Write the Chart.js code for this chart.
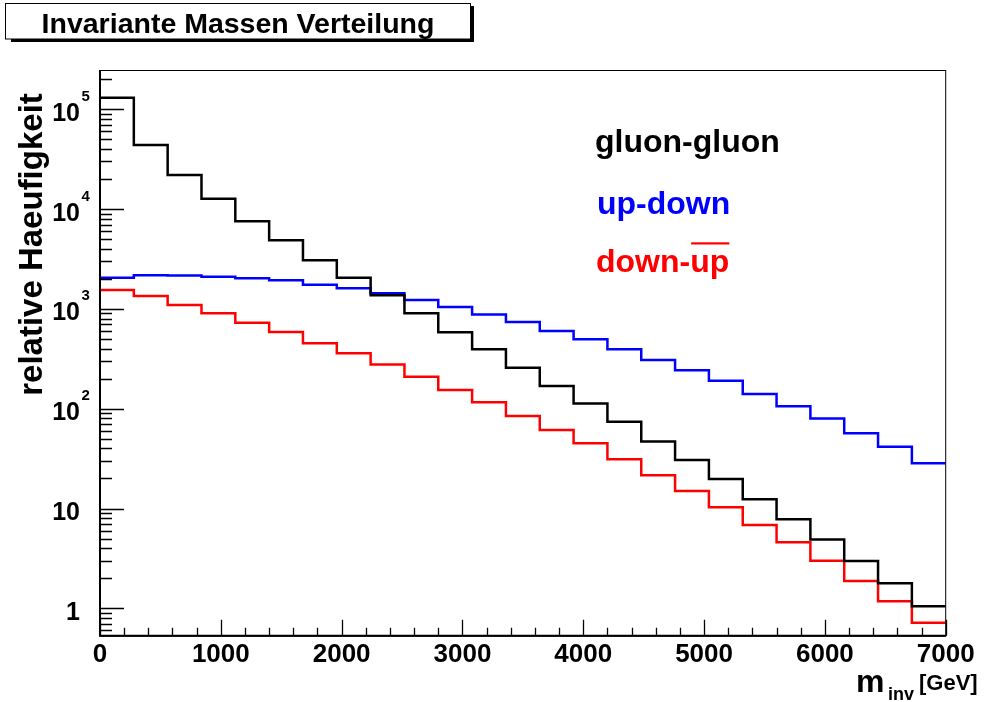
<!DOCTYPE html>
<html>
<head>
<meta charset="utf-8">
<title>Invariante Massen Verteilung</title>
<script src="https://cdn.jsdelivr.net/npm/chart.js@4.4.1/dist/chart.umd.min.js"></script>
<style>
  html, body { margin: 0; padding: 0; background: #fff; }
  #wrap { width: 985px; height: 702px; }
</style>
</head>
<body>
<div id="wrap"><canvas id="massChart" width="985" height="702"></canvas></div>
<script>
// lower edges of the 25 bins (GeV), plus the closing edge
var binLow = [0, 280, 560, 840, 1120, 1400, 1680, 1960, 2240, 2520, 2800, 3080, 3360,
              3640, 3920, 4200, 4480, 4760, 5040, 5320, 5600, 5880, 6160, 6440, 6720];
var binEnd = 7000;

// bin contents
var gluonGluon = [130600, 43800, 22000, 12700, 7550, 4870, 3070, 2055, 1368, 904, 583, 394, 257,
                  169, 113, 74, 47, 30.6, 19.8, 12.4, 7.8, 4.9, 2.98, 1.78, 1.05];
var upDown = [2055, 2172, 2165, 2100, 2026, 1935, 1747, 1608, 1437, 1228, 1045, 879, 739,
              601, 496, 394, 308, 243, 191, 140, 106, 80, 56.7, 41.6, 28.4];
var downUpBar = [1546, 1347, 1094, 904, 727, 587, 452, 359, 277, 209, 154, 116, 84.5,
                 61.2, 45, 31.1, 21.5, 15, 10.3, 6.84, 4.58, 3.0, 1.88, 1.175, 0.717];

var xTickValues = [0, 1000, 2000, 3000, 4000, 5000, 6000, 7000];
var xTickLabels = ['0', '1000', '2000', '3000', '4000', '5000', '6000', '7000'];
var yTickValues = [1, 10, 100, 1000, 10000, 100000];
var yTickBase = ['1', '10', '10', '10', '10', '10'];
var yTickExp = ['', '', '2', '3', '4', '5'];

var seriesNames = ['gluon-gluon', 'up-down', 'down-up'];
var seriesColors = ['#000000', '#0000ff', '#ff0000'];

var FONT = '"Liberation Sans", Arial, Helvetica, sans-serif';

function toSteps(vals) {
  var pts = [];
  for (var i = 0; i < binLow.length; i++) {
    pts.push({ x: binLow[i], y: vals[i] });
  }
  pts.push({ x: binEnd, y: vals[vals.length - 1] });
  return pts;
}

var rootStyle = {
  id: 'rootStyle',
  afterDraw: function (chart) {
    var ctx = chart.ctx;
    var a = chart.chartArea;
    var xs = chart.scales.x;
    var ys = chart.scales.y;
    ctx.save();

    // frame
    ctx.strokeStyle = '#000';
    ctx.lineWidth = 1;
    ctx.strokeRect(a.left, a.top + 0.5, a.right - a.left, a.bottom - a.top);
    ctx.lineWidth = 2;
    ctx.beginPath();
    ctx.moveTo(a.left, a.top);
    ctx.lineTo(a.left, a.bottom);
    ctx.lineTo(a.right, a.bottom);
    ctx.stroke();

    // y ticks (inside)
    ctx.lineWidth = 1.3;
    ctx.beginPath();
    var decades = [0.1, 1, 10, 100, 1000, 10000, 100000];
    decades.forEach(function (d) {
      for (var m = 1; m <= 9; m++) {
        var v = m * d;
        if (v < ys.min || v > ys.max) continue;
        var py = Math.round(ys.getPixelForValue(v)) + 0.5;
        var len = (m === 1) ? 24 : 12;
        ctx.moveTo(a.left, py);
        ctx.lineTo(a.left + len, py);
      }
    });
    // x ticks (inside)
    for (var xv = 0; xv <= binEnd; xv += 200) {
      var px = Math.round(xs.getPixelForValue(xv)) + 0.5;
      var l = (xv % 1000 === 0) ? 16 : 8;
      ctx.moveTo(px, a.bottom);
      ctx.lineTo(px, a.bottom - l);
    }
    ctx.stroke();

    ctx.fillStyle = '#000';
    // y tick labels
    yTickValues.forEach(function (v, i) {
      var py = ys.getPixelForValue(v);
      ctx.font = 'bold 25px ' + FONT;
      ctx.textAlign = 'right';
      ctx.textBaseline = 'alphabetic';
      ctx.fillText(yTickBase[i], 80, py + 11.5);
      if (yTickExp[i]) {
        ctx.font = 'bold 15px ' + FONT;
        ctx.textAlign = 'left';
        ctx.fillText(yTickExp[i], 81.5, py - 8.5);
      }
    });
    // x tick labels
    ctx.font = 'bold 26px ' + FONT;
    ctx.textAlign = 'center';
    xTickValues.forEach(function (v, i) {
      ctx.fillText(xTickLabels[i], xs.getPixelForValue(v), 662.3);
    });

    // y axis title
    ctx.save();
    ctx.translate(42, 244.5);
    ctx.rotate(-Math.PI / 2);
    ctx.font = 'bold 33px ' + FONT;
    ctx.textAlign = 'center';
    ctx.fillText('relative Haeufigkeit', 0, 0);
    ctx.restore();

    // x axis title
    ctx.textAlign = 'left';
    ctx.font = 'bold 32px ' + FONT;
    ctx.fillText('m', 856, 691.7);
    ctx.font = 'bold 18px ' + FONT;
    ctx.fillText('inv', 888, 700);
    ctx.font = 'bold 22px ' + FONT;
    ctx.fillText('[GeV]', 919, 690);

    // legend text
    ctx.font = 'bold 32px ' + FONT;
    ctx.fillStyle = seriesColors[0];
    ctx.fillText(seriesNames[0], 595, 152);
    ctx.fillStyle = seriesColors[1];
    ctx.fillText(seriesNames[1], 597, 214);
    ctx.fillStyle = seriesColors[2];
    var parts = seriesNames[2].split('-');
    var head = parts[0] + '-';
    ctx.fillText(head, 596, 272);
    var ux = 596 + ctx.measureText(head).width;
    ctx.fillText(parts[1], ux, 272);
    var uw = ctx.measureText(parts[1]).width;
    ctx.fillRect(ux + 1, 242.3, uw - 1, 2.2);

    // title box with shadow
    ctx.fillStyle = '#000';
    ctx.fillRect(11, 39, 463, 3);
    ctx.fillRect(471, 6, 3, 36);
    ctx.fillStyle = '#fff';
    ctx.fillRect(5, 3, 466, 36);
    ctx.strokeStyle = '#000';
    ctx.lineWidth = 1;
    ctx.strokeRect(5.5, 3.5, 465, 35.5);
    ctx.fillStyle = '#000';
    ctx.font = 'bold 28.5px ' + FONT;
    ctx.textAlign = 'center';
    ctx.fillText('Invariante Massen Verteilung', 238, 32.5);

    ctx.restore();
  }
};

var datasets = [gluonGluon, upDown, downUpBar].map(function (vals, i) {
  return {
    label: seriesNames[i],
    data: toSteps(vals),
    borderColor: seriesColors[i],
    backgroundColor: seriesColors[i],
    borderWidth: 2.5,
    stepped: 'before',
    pointRadius: 0,
    fill: false
  };
});

new Chart(document.getElementById('massChart'), {
  type: 'line',
  data: { datasets: datasets },
  options: {
    responsive: false,
    animation: false,
    layout: { padding: { top: 70, right: 39.3, left: 0, bottom: 0 } },
    plugins: {
      legend: { display: false },
      title: { display: false },
      tooltip: { enabled: false }
    },
    scales: {
      x: {
        type: 'linear',
        min: 0,
        max: binEnd,
        bounds: 'data',
        grid: { display: false },
        border: { display: false },
        ticks: { display: false },
        afterFit: function (s) { s.height = 66.3; }
      },
      y: {
        type: 'logarithmic',
        min: 0.5314,
        max: 247700,
        bounds: 'data',
        grid: { display: false },
        border: { display: false },
        ticks: { display: false },
        afterFit: function (s) { s.width = 100; }
      }
    }
  },
  plugins: [rootStyle]
});
</script>
</body>
</html>
